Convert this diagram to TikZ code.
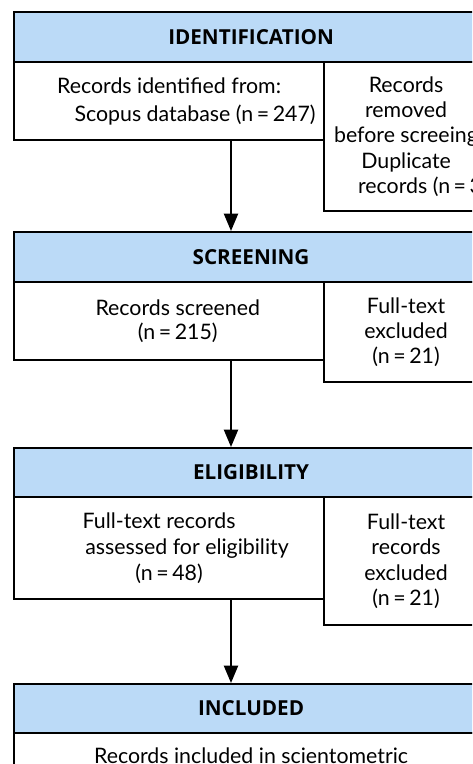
\documentclass[tikz,border=0pt]{standalone}
\usepackage{xcolor}
\usepackage{fontspec}
\setmainfont{Lato}
\newfontfamily\headfont{Open Sans}
\usetikzlibrary{arrows.meta}
\definecolor{headblue}{RGB}{187,218,247}

\begin{document}
\begin{tikzpicture}[x=0.75pt,y=-0.75pt,line width=1.6pt,every node/.style={shape=rectangle,draw,anchor=north west,align=center,inner sep=0pt},
    head/.style={fill=headblue,minimum width=355.5pt,minimum height=37.5pt,font=\headfont\bfseries\fontsize{15.5}{18}\selectfont},
    mainbox/.style={minimum width=232.5pt,font=\fontsize{16}{19.5}\selectfont},
    sidebox/.style={minimum width=123pt,font=\fontsize{16}{19}\selectfont},
    flow/.style={-{Triangle[length=13pt,width=10.5pt]}}]
  \useasboundingbox (0,0) rectangle (472,764);
  \clip (0,0) rectangle (472,764);
  \coordinate (spine) at (231,0);
  % identification
  \node[head] (identhead) at (13,11) {IDENTIFICATION};
  \node[mainbox,minimum height=58.5pt,font=\fontsize{16}{21}\selectfont] (identmain) at (13,61) {Records identified from:\\ \hspace*{39pt}Scopus database (n\,=\,247)};
  \node[sidebox,minimum height=111.75pt] (identside) at (323,61) {Records\\removed\\\makebox[0pt][l]{\hspace*{-54pt}before screeing}\\Duplicate\\\makebox[0pt][l]{\hspace*{-36pt}records (n\,=\,32)}};
  % screening
  \node[head] (screenhead) at (13,231) {SCREENING};
  \node[mainbox,minimum height=58.5pt,font=\fontsize{16}{17.5}\selectfont] (screenmain) at (13,281) {\hspace*{13pt}Records screened\\\hspace*{13pt}(n\,=\,215)};
  \node[sidebox,minimum height=75pt] (screenside) at (323,281) {Full-text\\excluded\\(n\,=\,21)};
  % eligibility
  \node[head,minimum height=36.75pt] (elighead) at (13,447) {ELIGIBILITY};
  \node[mainbox,minimum height=76.5pt] (eligmain) at (13,496) {Full-text records\hspace*{15pt}\\ \hspace*{27pt}assessed for eligibility\\(n\,=\,48)};
  \node[sidebox,minimum height=96pt] (eligside) at (323,496) {Full-text\\records\\excluded\\(n\,=\,21)};
  % included
  \node[head,minimum height=36.75pt] (inclhead) at (13,683) {INCLUDED};
  \node[minimum width=355.5pt,minimum height=34.5pt,font=\fontsize{16}{19}\selectfont] (inclmain) at (13,732) {Records included in scientometric};
  \draw[flow] (identmain.south -| spine) -- (screenhead.north -| spine);
  \draw[flow] (screenmain.south -| spine) -- (elighead.north -| spine);
  \draw[flow] (eligmain.south -| spine) -- (inclhead.north -| spine);
\end{tikzpicture}
\end{document}
